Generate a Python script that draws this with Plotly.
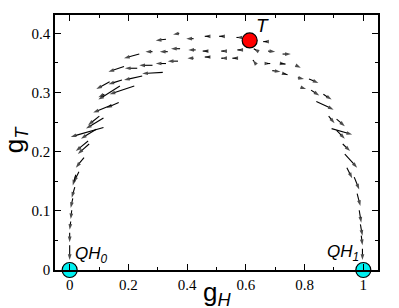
import plotly.graph_objects as go

# arrow tails (gH0, gT0) and heads (gH1, gT1), in data units
gH0 = [0.328, 0.373, 0.422, 0.474, 0.523, 0.575,
       0.282, 0.334, 0.376, 0.429, 0.470, 0.526, 0.582, 0.634,
       0.328, 0.369, 0.422, 0.477, 0.523, 0.568, 0.627,
       0.237, 0.282, 0.230, 0.185, 0.317, 0.247, 0.178, 0.136, 0.220, 0.118,
       0.171, 0.143, 0.167, 0.101, 0.115, 0.115, 0.0906, 0.0662, 0.0627, 0.0488,
       0.0314, 0.0209, 0.0174, 0.0105, 0.007, 0.0035, 0.0, 0.0,
       0.672, 0.676, 0.725, 0.672, 0.718, 0.690, 0.728, 0.770, 0.777, 0.815,
       0.787, 0.822, 0.864, 0.840, 0.882, 0.909, 0.892, 0.909, 0.930, 0.937,
       0.944, 0.969, 0.979, 0.986, 0.990, 0.993, 0.997]
gT0 = [0.390, 0.400, 0.391, 0.395, 0.395, 0.393,
       0.369, 0.369, 0.374, 0.372, 0.370, 0.370, 0.372, 0.372,
       0.349, 0.353, 0.358, 0.360, 0.358, 0.358, 0.353,
       0.365, 0.346, 0.341, 0.344, 0.334, 0.328, 0.321, 0.318, 0.311, 0.297,
       0.311, 0.279, 0.283, 0.260, 0.257, 0.241, 0.238, 0.213, 0.218, 0.190,
       0.166, 0.161, 0.140, 0.121, 0.101, 0.082, 0.063, 0.042,
       0.386, 0.370, 0.365, 0.349, 0.349, 0.337, 0.332, 0.346, 0.325, 0.323,
       0.309, 0.304, 0.297, 0.285, 0.260, 0.255, 0.239, 0.236, 0.213, 0.196,
       0.173, 0.157, 0.129, 0.101, 0.077, 0.058, 0.036]
gH1 = [0.293, 0.352, 0.397, 0.460, 0.509, 0.568,
       0.258, 0.307, 0.345, 0.404, 0.453, 0.516, 0.571, 0.627,
       0.293, 0.334, 0.401, 0.460, 0.516, 0.554, 0.624,
       0.185, 0.237, 0.188, 0.132, 0.247, 0.185, 0.132, 0.0906, 0.136, 0.0976,
       0.0976, 0.0801, 0.125, 0.0627, 0.0557, 0.0035, 0.0383, 0.0279, 0.0209, 0.0209,
       0.0139, 0.0105, 0.007, 0.0035, 0.0035, 0.0, 0.0, 0.0,
       0.659, 0.700, 0.753, 0.683, 0.735, 0.718, 0.742, 0.787, 0.798, 0.847,
       0.805, 0.850, 0.892, 0.899, 0.902, 0.937, 0.962, 0.937, 0.955, 0.979,
       0.962, 0.986, 0.990, 0.993, 0.997, 0.997, 0.997]
gT1 = [0.388, 0.398, 0.391, 0.395, 0.395, 0.393,
       0.369, 0.369, 0.374, 0.372, 0.370, 0.370, 0.372, 0.374,
       0.349, 0.353, 0.358, 0.360, 0.358, 0.358, 0.355,
       0.358, 0.346, 0.341, 0.335, 0.332, 0.321, 0.314, 0.306, 0.297, 0.292,
       0.288, 0.266, 0.274, 0.245, 0.239, 0.225, 0.222, 0.196, 0.201, 0.173,
       0.148, 0.143, 0.122, 0.105, 0.086, 0.068, 0.047, 0.017,
       0.386, 0.369, 0.365, 0.349, 0.348, 0.335, 0.330, 0.342, 0.323, 0.316,
       0.306, 0.295, 0.288, 0.271, 0.248, 0.243, 0.229, 0.222, 0.201, 0.173,
       0.155, 0.136, 0.108, 0.080, 0.058, 0.042, 0.017]

# fixed points
fp_x = [0.0, 1.0]
fp_y = [0.0, 0.0]
fp_names = ["QH<sub>0</sub>", "QH<sub>1</sub>"]
T_x = [0.613]
T_y = [0.388]

xticks = [0, 0.2, 0.4, 0.6, 0.8, 1]
xticklabels = ["0", "0.2", "0.4", "0.6", "0.8", "1"]
yticks = [0, 0.1, 0.2, 0.3, 0.4]
yticklabels = ["0", "0.1", "0.2", "0.3", "0.4"]

# build segment trace: tail -> head, with arrow marker at the head
seg_x, seg_y, seg_size = [], [], []
for x0, y0, x1, y1 in zip(gH0, gT0, gH1, gT1):
    seg_x += [x0, x1, None]
    seg_y += [y0, y1, None]
    seg_size += [0, 6, 0]

fig = go.Figure()
fig.add_trace(go.Scatter(
    x=seg_x, y=seg_y, mode="lines+markers",
    line=dict(color="black", width=1.1),
    marker=dict(symbol="arrow", angleref="previous", size=seg_size,
                color="black", line=dict(width=0)),
    connectgaps=False, showlegend=False, hoverinfo="skip"))

fig.add_trace(go.Scatter(x=fp_x, y=fp_y, mode="markers",
                         marker=dict(size=15, color="#00f0f0",
                                     line=dict(color="black", width=1.2)),
                         cliponaxis=False, showlegend=False))
fig.add_trace(go.Scatter(x=T_x, y=T_y, mode="markers",
                         marker=dict(size=15, color="#ff0000",
                                     line=dict(color="black", width=1.2)),
                         cliponaxis=False, showlegend=False))

lab_font = dict(family="Liberation Sans, Arial", size=17, color="black")
fig.add_annotation(x=fp_x[0], y=fp_y[0], text="<i>" + fp_names[0] + "</i>",
                   xref="x", yref="y", showarrow=False, xanchor="left",
                   yanchor="bottom", xshift=3, yshift=2, font=lab_font)
fig.add_annotation(x=fp_x[1], y=fp_y[1], text="<i>" + fp_names[1] + "</i>",
                   xref="x", yref="y", showarrow=False, xanchor="right",
                   yanchor="bottom", xshift=-2, yshift=4, font=lab_font)
fig.add_annotation(x=T_x[0], y=T_y[0], text="<i>T</i>",
                   xref="x", yref="y", showarrow=False, xanchor="left",
                   yanchor="bottom", xshift=4, yshift=2,
                   font=dict(family="Liberation Sans, Arial", size=19,
                             color="black"))

title_font = dict(family="Liberation Sans, Arial", size=26, color="black")
fig.add_annotation(x=0.5, y=0, xref="x", yref="paper",
                   text="g<sub><i>H</i></sub>", showarrow=False,
                   yanchor="top", xanchor="center", yshift=-5,
                   font=title_font)
fig.add_annotation(x=0, y=0.22, xref="paper", yref="y",
                   text="g<sub><i>T</i></sub>", showarrow=False,
                   textangle=-90, xanchor="right", yanchor="middle",
                   xshift=-21, font=title_font)

axis_common = dict(showline=True, linecolor="black", linewidth=1.5,
                   mirror="ticks", ticks="inside", ticklen=6, tickwidth=1,
                   tickcolor="black", showgrid=False, zeroline=False,
                   tickfont=dict(family="Liberation Serif, Times New Roman",
                                 size=15, color="black"))

# page body adds an 8 px offset; figure sized so the plot lands in place
fig.update_layout(
    width=391, height=300,
    margin=dict(l=47, r=21, t=7, b=38, autoexpand=False),
    plot_bgcolor="white", paper_bgcolor="white",
    xaxis=dict(range=[-0.05, 1.05], tickvals=xticks, ticktext=xticklabels,
               minor=dict(tickvals=[0.1, 0.3, 0.5, 0.7, 0.9], ticklen=3,
                          ticks="inside", tickcolor="black"),
               **axis_common),
    yaxis=dict(range=[0, 0.431], tickvals=yticks, ticktext=yticklabels,
               minor=dict(tickvals=[0.05, 0.15, 0.25, 0.35], ticklen=3,
                          ticks="inside", tickcolor="black"),
               **axis_common),
)

fig.write_html("out.html")
